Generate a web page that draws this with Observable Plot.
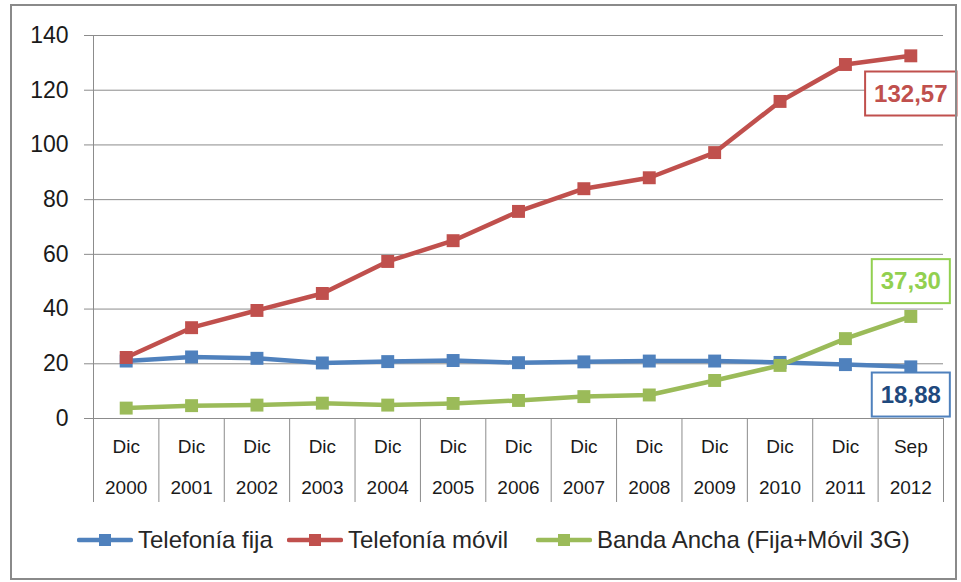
<!DOCTYPE html>
<html>
<head>
<meta charset="utf-8">
<script src="https://cdn.jsdelivr.net/npm/d3@7"></script>
<script src="https://cdn.jsdelivr.net/npm/@observablehq/plot@0.6"></script>
<style>
  html, body { margin: 0; padding: 0; background: #fff; }
  #wrap { position: relative; width: 961px; height: 582px; overflow: hidden; font-family: "Liberation Sans", Arial, sans-serif; }
  #frame { position: absolute; left: 10px; top: 4px; width: 943px; height: 572px; border: 2px solid #8a8a8a; box-sizing: content-box; pointer-events: none; }
  #chart { position: absolute; left: 0; top: 0; }
  .leg { position: absolute; top: 526px; display: flex; align-items: center; font-size: 24px; color: #262626; white-space: nowrap; }
  .leg svg { margin-right: 5px; }
</style>
</head>
<body>
<div id="wrap">
  <div id="chart"></div>
  <div id="frame"></div>
  <div id="legend"></div>
</div>
<script>
// ---- data ----
const months = ["Dic","Dic","Dic","Dic","Dic","Dic","Dic","Dic","Dic","Dic","Dic","Dic","Sep"];
const years = ["2000","2001","2002","2003","2004","2005","2006","2007","2008","2009","2010","2011","2012"];
const seriesNames = ["Telefonía fija", "Telefonía móvil", "Banda Ancha (Fija+Móvil 3G)"];
const fija  = [21.0, 22.5, 22.0, 20.3, 20.8, 21.2, 20.4, 20.7, 21.0, 21.0, 20.5, 19.7, 18.88];
const movil = [22.3, 33.2, 39.5, 45.7, 57.4, 65.0, 75.7, 84.0, 88.0, 97.2, 115.9, 129.4, 132.57];
const banda = [3.8, 4.7, 4.9, 5.6, 4.9, 5.5, 6.6, 8.0, 8.6, 13.9, 19.4, 29.2, 37.30];
const yTicks = [0, 20, 40, 60, 80, 100, 120, 140];

// ---- styles ----
const lineColors = ["#4F81BD", "#C0504D", "#9BBB59"];
const labelText = ["#1F497D", "#C0504D", "#92D050"];
const labelBox = ["#4F81BD", "#C0504D", "#92D050"];
const labelDy = [28, 38, -35];

const values = [fija, movil, banda];
const cats = months.map((m, i) => ({month: m, year: years[i], pos: i + 0.5}));
const rows = seriesNames.map((s, k) => values[k].map((v, i) => ({series: s, k, pos: i + 0.5, value: v})));
const last = rows.map(r => r[r.length - 1]);
const fmt = v => v.toFixed(2).replace(".", ",");

const seriesMarks = rows.flatMap((r, k) => [
  Plot.line(r, {x: "pos", y: "value", stroke: lineColors[k], strokeWidth: 4.5}),
  Plot.dot(r, {x: "pos", y: "value", fill: lineColors[k], symbol: "square", r: 7.3, stroke: "none"})
]);

const labelMarks = last.map((d, k) => Plot.text([d], {
  x: "pos", y: "value", text: d => fmt(d.value), dy: labelDy[k],
  fill: labelText[k], fontSize: 24, fontWeight: "bold"
}));

const chart = Plot.plot({
  width: 961,
  height: 515,
  marginLeft: 93,
  marginRight: 18,
  marginTop: 35,
  marginBottom: 97,
  style: {fontFamily: "Liberation Sans, Arial, sans-serif", background: "transparent", overflow: "visible"},
  x: {domain: [0, months.length], axis: null},
  y: {domain: [0, 140], axis: null},
  marks: [
    Plot.ruleY(yTicks, {stroke: "#8c8c8c", strokeWidth: 1, insetLeft: -9}),
    Plot.ruleX([0], {stroke: "#8c8c8c", strokeWidth: 1}),
    Plot.ruleX(d3.range(months.length + 1), {y1: 0, y2: 0, insetBottom: -84, stroke: "#8c8c8c", strokeWidth: 1}),
    Plot.axisY(yTicks, {tickSize: 0, tickPadding: 25, fontSize: 23, fill: "#1a1a1a", label: null}),
    Plot.text(cats, {x: "pos", y: () => 0, text: "month", dy: 28, fontSize: 19, fill: "#1a1a1a"}),
    Plot.text(cats, {x: "pos", y: () => 0, text: "year", dy: 69, fontSize: 19, fill: "#1a1a1a"}),
    ...seriesMarks,
    ...labelMarks
  ]
});
document.getElementById("chart").appendChild(chart);

// boxes around end labels
last.forEach((d, k) => {
  const label = fmt(d.value);
  chart.querySelectorAll("text").forEach(t => {
    if (t.textContent !== label) return;
    const b = t.getBBox();
    const padX = 9, padY = 9;
    const rect = document.createElementNS("http://www.w3.org/2000/svg", "rect");
    rect.setAttribute("x", b.x - padX);
    rect.setAttribute("y", b.y - padY + 1);
    rect.setAttribute("width", b.width + 2 * padX);
    rect.setAttribute("height", b.height + 2 * padY - 1);
    rect.setAttribute("fill", "#fff");
    rect.setAttribute("stroke", labelBox[k]);
    rect.setAttribute("stroke-width", 2);
    const tr = t.getAttribute("transform");
    if (tr) rect.setAttribute("transform", tr);
    t.parentNode.insertBefore(rect, t);
  });
});

// legend
const legendLeft = [77, 287, 536];
const legend = document.getElementById("legend");
seriesNames.forEach((s, k) => {
  const item = document.createElement("div");
  item.className = "leg";
  item.style.left = legendLeft[k] + "px";
  item.innerHTML = `<svg width="56" height="14"><line x1="2" y1="7" x2="54" y2="7" stroke="${lineColors[k]}" stroke-width="4.5" stroke-linecap="round"/><rect x="22" y="1" width="12" height="12" fill="${lineColors[k]}"/></svg><span>${s}</span>`;
  legend.appendChild(item);
});
</script>
</body>
</html>
